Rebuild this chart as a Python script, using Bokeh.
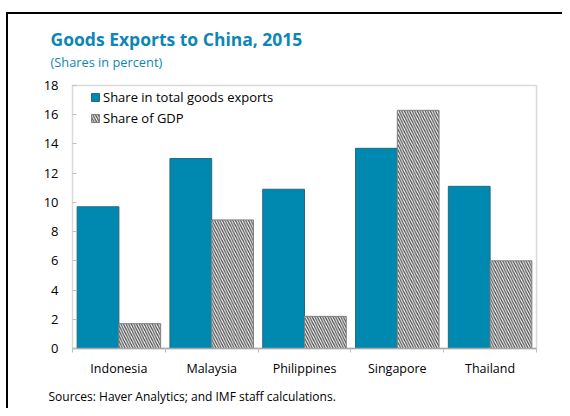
from bokeh.plotting import figure
from bokeh.models import ColumnDataSource, FixedTicker, Legend, LegendItem, Range1d, Title
from bokeh.embed import file_html
from bokeh.resources import INLINE

countries = ["Indonesia", "Malaysia", "Philippines", "Singapore", "Thailand"]
share_exports = [9.7, 13.0, 10.9, 13.7, 11.1]
share_gdp = [1.7, 8.8, 2.2, 16.3, 6.0]
y_ticks = [0, 2, 4, 6, 8, 10, 12, 14, 16, 18]

FONT = "Open Sans"
BLUE = "#0089b0"
TITLE_BLUE = "#0e86b5"

idx = list(range(len(countries)))
src = ColumnDataSource(dict(
    xa=[i + 0.5 - 0.225 for i in idx],
    xb=[i + 0.5 + 0.225 for i in idx],
    exports=share_exports,
    gdp=share_gdp,
))

W, H = 556, 396
p = figure(width=W, height=H, output_backend="svg", toolbar_location=None, title=None,
           x_range=Range1d(0, len(countries)), y_range=Range1d(0, 18),
           min_border_left=64, min_border_right=28, min_border_top=71, min_border_bottom=62)
p.styles = {"margin-left": "8px", "margin-top": "14px", "overflow": "hidden",
            "box-shadow": "-2px -2px 0px 0px black"}

r1 = p.vbar(x="xa", top="exports", width=0.45, source=src, fill_color=BLUE,
            line_color="#27687c", line_width=1)
r2 = p.vbar(x="xb", top="gdp", width=0.45, source=src, fill_color="white",
            line_color="#7f7f7f", line_width=1, hatch_pattern="left_diagonal_line",
            hatch_color="#555555", hatch_weight=1.3, hatch_scale=5.2)

p.xgrid.visible = False
p.ygrid.visible = False
p.outline_line_color = "#d9d9d9"
p.outline_line_width = 1.5

p.xaxis.ticker = FixedTicker(ticks=[i + 0.5 for i in idx], minor_ticks=list(range(len(countries) + 1)))
p.xaxis.major_label_overrides = {i + 0.5: c for i, c in zip(idx, countries)}
p.xaxis.major_tick_out = 0
p.xaxis.major_tick_in = 0
p.xaxis.minor_tick_out = 4
p.xaxis.minor_tick_in = 0
p.xaxis.minor_tick_line_color = "#bfbfbf"
p.xaxis.axis_line_color = "#a6a6a6"
p.xaxis.axis_line_width = 1.5
p.xaxis.major_label_standoff = 7

p.yaxis.ticker = FixedTicker(ticks=y_ticks)
p.yaxis.major_tick_in = 4
p.yaxis.major_tick_out = 0
p.yaxis.major_tick_line_color = "#bfbfbf"
p.yaxis.minor_tick_line_color = None
p.yaxis.axis_line_color = None
p.yaxis.major_label_standoff = 14

for ax in (p.xaxis, p.yaxis):
    ax.major_label_text_font = FONT
    ax.major_label_text_font_size = "13px"
    ax.major_label_text_color = "black"
p.xaxis.major_label_text_font_size = "12.5px"

legend = Legend(items=[LegendItem(label="Share in total goods exports", renderers=[r1]),
                       LegendItem(label="Share of GDP", renderers=[r2])],
                location=(18, 221))
legend.label_text_font = FONT
legend.label_text_font_size = "13px"
legend.label_text_color = "black"
legend.glyph_width = 10
legend.glyph_height = 10
legend.label_standoff = 3
legend.spacing = 3
legend.padding = 2
legend.margin = 0
legend.border_line_color = None
legend.background_fill_alpha = 0
legend.label_height = 16
p.add_layout(legend)

# blank spacer between the plot frame and the subtitle
p.add_layout(Title(text="\u00a0", text_font=FONT, text_font_size="8px", text_color="white",
                   standoff=2), "above")
p.add_layout(Title(text="(Shares in percent)", align="left", offset=-22, standoff=0,
                   text_font=FONT, text_font_size="12.8px", text_font_style="normal",
                   text_color=TITLE_BLUE), "above")
p.add_layout(Title(text="Goods Exports to China, 2015", align="left", offset=-22, standoff=0,
                   text_font=FONT, text_font_size="17.5px", text_font_style="bold",
                   text_color=TITLE_BLUE), "above")
p.add_layout(Title(text="Sources: Haver Analytics; and IMF staff calculations.", align="left",
                   offset=-24, standoff=12, text_font=FONT, text_font_size="12px",
                   text_font_style="normal", text_color="black"), "below")

open("out.html", "w").write(file_html(p, INLINE))
